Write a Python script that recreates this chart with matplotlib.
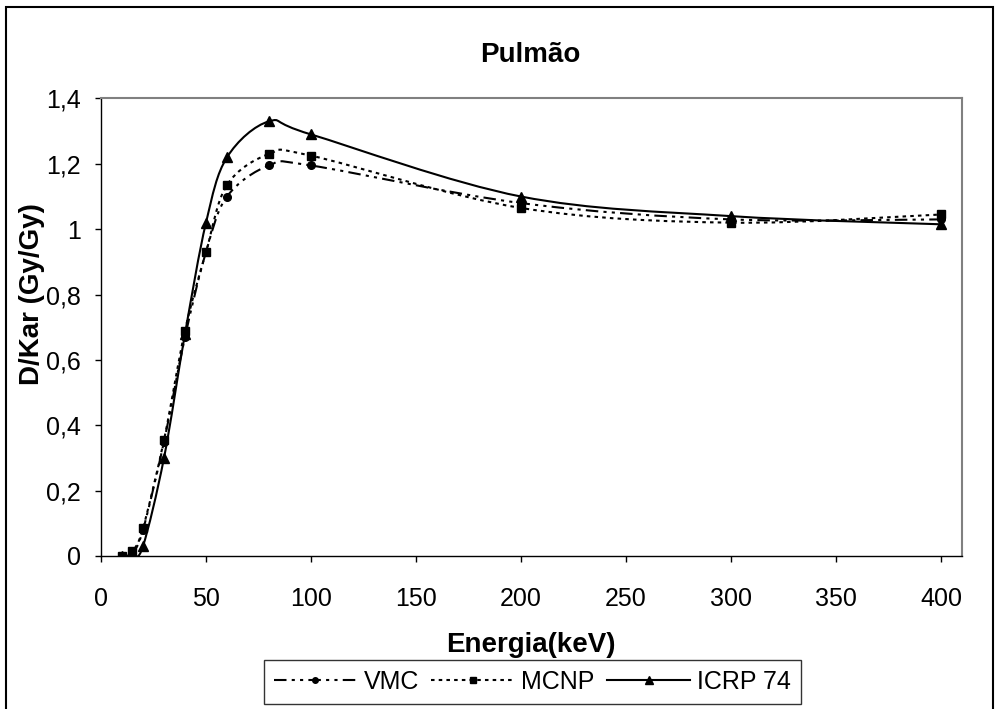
import numpy as np
import matplotlib
matplotlib.use("Agg")
import matplotlib.pyplot as plt
from matplotlib.path import Path
from matplotlib.patches import PathPatch, Rectangle
from matplotlib.lines import Line2D
from matplotlib.ticker import FuncFormatter

plt.rcParams['font.family'] = ['Liberation Sans', 'DejaVu Sans']

# energias (keV) e D/Kar (Gy/Gy) para o pulmão
energia = [10, 15, 20, 30, 40, 50, 60, 80, 100, 200, 300, 400]
vmc = [0.0, 0.01, 0.08, 0.35, 0.67, 0.93, 1.10, 1.195, 1.195, 1.08, 1.03, 1.03]
mcnp = [0.0, 0.015, 0.085, 0.355, 0.69, 0.93, 1.135, 1.23, 1.225, 1.065, 1.02, 1.045]
icrp = [0.0, 0.0, 0.03, 0.30, 0.68, 1.02, 1.22, 1.33, 1.29, 1.10, 1.04, 1.015]

xticks = [0, 50, 100, 150, 200, 250, 300, 350, 400]
yticks = [0, 0.2, 0.4, 0.6, 0.8, 1.0, 1.2, 1.4]


def suave(x, y):
    # linha suavizada como no Excel (bezier cubica entre os pontos)
    p = np.column_stack([x, y]).astype(float)
    n = len(p)
    verts = [p[0]]
    codes = [Path.MOVETO]
    for i in range(n - 1):
        a = p[max(i - 1, 0)]
        b = p[i]
        c = p[i + 1]
        d = p[min(i + 2, n - 1)]
        verts += [b + (c - a) / 6, c - (d - b) / 6, c]
        codes += [Path.CURVE4] * 3
    return Path(verts, codes)


fig = plt.figure(figsize=(9.97, 7.09), dpi=100)
ax = fig.add_axes([0.1013, 0.2158, 0.8636, 0.6453])

series = [
    ('VMC', vmc, 'o', 5.5, (0, (6, 2.5, 1.5, 2.5, 1.5, 2.5))),
    ('MCNP', mcnp, 's', 5.5, (0, (1.7, 2))),
    ('ICRP 74', icrp, '^', 7, '-'),
]
handles = []
for nome, y, mk, ms, ls in series:
    patch = PathPatch(suave(energia, y), fill=False, ec='black', lw=1.5,
                      ls=ls, capstyle='butt', zorder=2)
    ax.add_patch(patch)
    ax.plot(energia, y, ls='none', marker=mk, ms=ms, color='black', zorder=3)
    handles.append(Line2D([], [], color='black', lw=1.5, ls=ls, marker=mk,
                          ms=ms - 1.5, dash_capstyle='butt'))

ax.set_xlim(0, 410)
ax.set_ylim(0, 1.4)
ax.set_xticks(xticks)
ax.set_yticks(yticks)
ax.yaxis.set_major_formatter(FuncFormatter(lambda v, p: ('%g' % v).replace('.', ',')))
ax.tick_params(direction='out', length=4.5, width=1, labelsize=18, color='black')
ax.tick_params(axis='x', pad=18)
ax.tick_params(axis='y', pad=10)
for s in ['top', 'right']:
    ax.spines[s].set_color('#808080')
    ax.spines[s].set_linewidth(1.5)
for s in ['left', 'bottom']:
    ax.spines[s].set_color('black')
    ax.spines[s].set_linewidth(1)

fig.text(0.532, 0.922, 'Pulmão', ha='center', va='center', fontsize=20, fontweight='bold')
fig.text(0.532, 0.090, 'Energia(keV)', ha='center', va='center', fontsize=20, fontweight='bold')
fig.text(0.032, 0.585, 'D/Kar (Gy/Gy)', ha='center', va='center', fontsize=20,
         fontweight='bold', rotation=90)

leg = fig.legend(handles, [s[0] for s in series], loc='center', ncol=3,
                 bbox_to_anchor=(0.534, 0.038), fontsize=18, frameon=True,
                 fancybox=False, edgecolor='black', handlelength=3.3,
                 handletextpad=0.3, columnspacing=0.5, borderpad=0.4,
                 numpoints=1)
leg.get_frame().set_linewidth(1)

# moldura externa do gráfico
fig.patches.append(Rectangle((5.5 / 997, -0.05), 987.5 / 997, 1.05 - 6.5 / 709,
                             transform=fig.transFigure, fill=False,
                             ec='black', lw=1.5))

fig.savefig('out.png', dpi=100)
